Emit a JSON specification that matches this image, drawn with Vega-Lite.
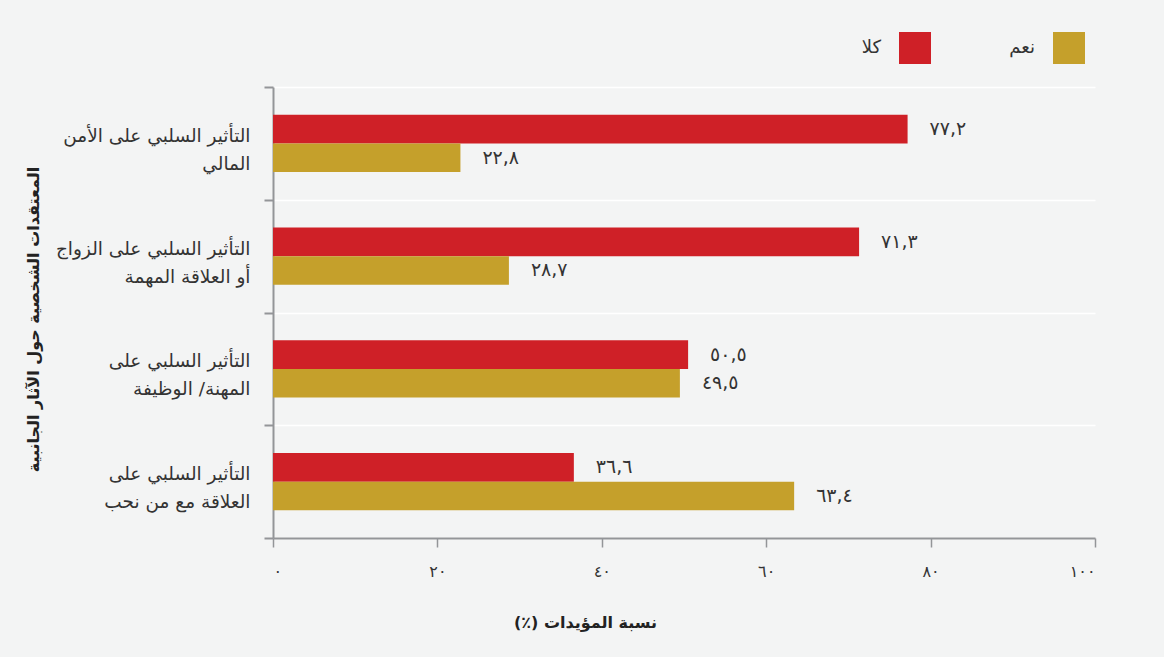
{
  "$schema": "https://vega.github.io/schema/vega-lite/v6.json",
  "width": 822,
  "height": 451,
  "autosize": {"type": "none"},
  "padding": {"left": 273, "top": 87, "right": 69, "bottom": 119},
  "background": "#f3f4f4",
  "config": {
    "view": {"stroke": null},
    "font": "DejaVu Sans",
    "text": {"font": "DejaVu Sans"}
  },
  "data": {
    "values": [
      {"cat": "التأثير السلبي على الأمن|المالي", "series": "كلا", "value": 77.2},
      {"cat": "التأثير السلبي على الأمن|المالي", "series": "نعم", "value": 22.8},
      {"cat": "التأثير السلبي على الزواج|أو العلاقة المهمة", "series": "كلا", "value": 71.3},
      {"cat": "التأثير السلبي على الزواج|أو العلاقة المهمة", "series": "نعم", "value": 28.7},
      {"cat": "التأثير السلبي على|المهنة/ الوظيفة", "series": "كلا", "value": 50.5},
      {"cat": "التأثير السلبي على|المهنة/ الوظيفة", "series": "نعم", "value": 49.5},
      {"cat": "التأثير السلبي على|العلاقة مع من نحب", "series": "كلا", "value": 36.6},
      {"cat": "التأثير السلبي على|العلاقة مع من نحب", "series": "نعم", "value": 63.4}
    ]
  },
  "transform": [
    {"calculate": "replace(replace(replace(replace(replace(replace(replace(replace(replace(replace(replace(format(datum.value, '.1f'), regexp('\\\\.', 'g'), ','), regexp('0', 'g'), '٠'), regexp('1', 'g'), '١'), regexp('2', 'g'), '٢'), regexp('3', 'g'), '٣'), regexp('4', 'g'), '٤'), regexp('5', 'g'), '٥'), regexp('6', 'g'), '٦'), regexp('7', 'g'), '٧'), regexp('8', 'g'), '٨'), regexp('9', 'g'), '٩')", "as": "lbl"}
  ],
  "encoding": {
    "y": {
      "field": "cat",
      "type": "nominal",
      "sort": ["التأثير السلبي على الأمن|المالي", "التأثير السلبي على الزواج|أو العلاقة المهمة", "التأثير السلبي على|المهنة/ الوظيفة", "التأثير السلبي على|العلاقة مع من نحب"],
      "scale": {"paddingInner": 0, "paddingOuter": 0},
      "axis": {
        "title": "المعتقدات الشخصية حول الآثار الجانبية",
        "titleFontSize": 16,
        "titleFontWeight": "bold",
        "titleColor": "#222222",
        "titleX": -240,
        "titleY": 232,
        "titleAngle": 270,
        "titleAlign": "center",
        "titleBaseline": "middle",
        "labelExpr": "split(datum.label, '|')",
        "labelFontSize": 18.5,
        "labelColor": "#333333",
        "labelLineHeight": 28,
        "labelPadding": 14,
        "labelOffset": -8,
        "labelAlign": "right",
        "labelLimit": 400,
        "bandPosition": 0,
        "tickBand": "extent",
        "tickSize": 9,
        "tickColor": "#939598",
        "tickWidth": 2,
        "domainColor": "#939598",
        "domainWidth": 2,
        "grid": true,
        "gridColor": "#ffffff",
        "gridWidth": 1.5
      }
    },
    "yOffset": {
      "field": "series",
      "type": "nominal",
      "sort": ["كلا", "نعم"],
      "scale": {"paddingOuter": 0.978, "paddingInner": 0}
    }
  },
  "layer": [
    {
      "mark": {"type": "bar"},
      "encoding": {
        "x": {
          "field": "value",
          "type": "quantitative",
          "scale": {"domain": [0, 100], "nice": false},
          "axis": {
            "values": [0, 20, 40, 60, 80, 100],
            "labelExpr": "replace(replace(replace(replace(replace(replace(datum.label, regexp('0', 'g'), '٠'), regexp('1', 'g'), '١'), regexp('2', 'g'), '٢'), regexp('4', 'g'), '٤'), regexp('6', 'g'), '٦'), regexp('8', 'g'), '٨')",
            "labelFontSize": 16,
            "labelColor": "#333333",
            "labelPadding": 16,
            "tickSize": 9,
            "tickColor": "#939598",
            "tickWidth": 1.5,
            "domainColor": "#939598",
            "domainWidth": 2,
            "grid": false,
            "title": "‏نسبة المؤيدات (٪)‏",
            "titleFontSize": 16,
            "titleFontWeight": "bold",
            "titleColor": "#222222",
            "titleX": 312,
            "titleY": 84,
            "titleAlign": "center",
            "titleBaseline": "middle"
          }
        },
        "color": {
          "field": "series",
          "type": "nominal",
          "scale": {"domain": ["كلا", "نعم"], "range": ["#cf2027", "#c5a02b"]},
          "legend": {
            "title": null,
            "orient": "none",
            "legendX": 626,
            "legendY": -55,
            "direction": "horizontal",
            "symbolType": "square",
            "symbolSize": 1024,
            "symbolStrokeWidth": 0,
            "symbolOpacity": 1,
            "labelFontSize": 18,
            "labelColor": "#333333",
            "labelAlign": "right",
            "labelOffset": -50,
            "columnPadding": 78,
            "padding": 0
          }
        }
      }
    },
    {
      "mark": {"type": "text", "align": "left", "baseline": "middle", "dx": 22, "fontSize": 19, "color": "#333333"},
      "encoding": {
        "x": {"field": "value", "type": "quantitative"},
        "text": {"field": "lbl"}
      }
    }
  ]
}
